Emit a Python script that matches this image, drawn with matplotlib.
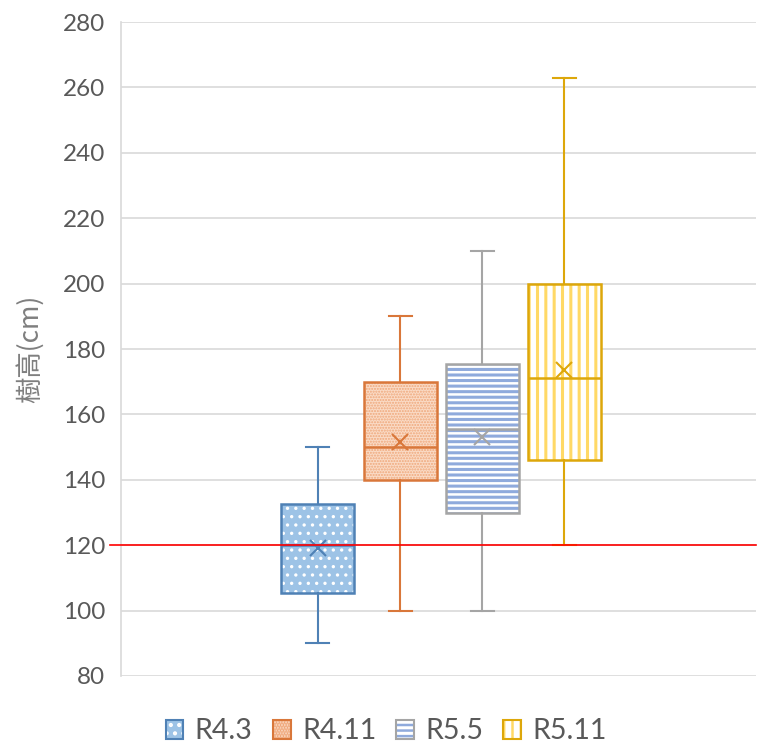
import matplotlib
matplotlib.use('Agg')
import matplotlib.pyplot as plt
import matplotlib.patches as mpatches
from matplotlib.legend_handler import HandlerTuple

plt.rcParams['font.family'] = ['Lato', 'Noto Sans CJK TC', 'DejaVu Sans']
plt.rcParams['hatch.linewidth'] = 1.8

# data
labels = ['R4.3', 'R4.11', 'R5.5', 'R5.11']
whis_lo = [90, 100, 100, 120]
q1 = [105.5, 140, 130, 146]
med = [120, 150, 155.5, 171]
q3 = [132.5, 170, 175.5, 200]
whis_hi = [150, 190, 210, 263]
means = [119, 151.5, 153, 173.5]

edge_cols = ['#4F81B5', '#D9773A', '#A5A5A5', '#DDA70A']
fill_cols = ['#9DC3E6', '#FADBC6', 'white', 'white']
hatch_cols = ['white', '#EFA77A', '#8FAADC', '#FFD966']
hatches = ['..', '......', '---', '||']
hatch_lw = [1.2, 1.0, 2.2, 2.2]

stats = []
for i in range(len(labels)):
    stats.append(dict(label=labels[i], whislo=whis_lo[i], q1=q1[i], med=med[i],
                      q3=q3[i], whishi=whis_hi[i], mean=means[i]))

fig = plt.figure(figsize=(7.59, 7.49), dpi=100)
ax = fig.add_axes([0.159, 0.0975, 0.837, 0.873])

pos = [1, 2, 3, 4]
bp = ax.bxp(stats, positions=pos, widths=0.89, capwidths=0.28,
            patch_artist=True, showmeans=True, showfliers=False)

for i, box in enumerate(bp['boxes']):
    box.set_facecolor(fill_cols[i])
    box.set_edgecolor(hatch_cols[i])
    box.set_hatch(hatches[i])
    box.set_linewidth(0)
    if hasattr(box, 'set_hatch_linewidth'):
        box.set_hatch_linewidth(hatch_lw[i])
    ax.add_patch(mpatches.PathPatch(box.get_path(), fill=False,
                                    edgecolor=edge_cols[i], lw=1.8, zorder=3))
    for k in (2 * i, 2 * i + 1):
        bp['whiskers'][k].set(color=edge_cols[i], lw=1.5)
        bp['caps'][k].set(color=edge_cols[i], lw=1.5)
    bp['medians'][i].set(color=edge_cols[i], lw=1.8, zorder=3)
    bp['means'][i].set(marker='x', markersize=11, markeredgecolor=edge_cols[i],
                       markeredgewidth=1.5, zorder=4)

ax.axhline(120, xmin=-0.017, xmax=1, color='red', lw=1.2, clip_on=False, zorder=5)

ax.set_xlim(-1.4, 6.33)
ax.set_ylim(80, 280)
ax.set_yticks(range(80, 281, 20))
ax.set_xticks([])
ax.yaxis.grid(True, color='#D9D9D9', lw=1.2)
ax.set_axisbelow(True)
for s in ['top', 'right', 'bottom']:
    ax.spines[s].set_visible(False)
ax.spines['left'].set_color('#D9D9D9')
ax.spines['left'].set_linewidth(1.2)
ax.tick_params(axis='y', length=0, pad=11, labelsize=17.5, labelcolor='#595959')
ax.set_ylabel('樹高(cm)', fontsize=19, color='#7F7F7F', labelpad=14,
              family=['Noto Sans CJK TC', 'DejaVu Sans'])

handles = []
for i in range(len(labels)):
    f = mpatches.Patch(facecolor=fill_cols[i], edgecolor=hatch_cols[i],
                       hatch=hatches[i], lw=0)
    if hasattr(f, 'set_hatch_linewidth'):
        f.set_hatch_linewidth(hatch_lw[i])
    o = mpatches.Patch(facecolor='none', edgecolor=edge_cols[i], lw=1.5)
    handles.append((f, o))
leg = fig.legend(handles, labels, loc='lower center', bbox_to_anchor=(0.509, -0.028),
                 ncol=4, frameon=False, fontsize=20.5, handlelength=0.63, handleheight=0.63,
                 handletextpad=0.4, columnspacing=0.7,
                 handler_map={tuple: HandlerTuple(ndivide=1)})
for t in leg.get_texts():
    t.set_color('#595959')

fig.savefig('out.png', dpi=100)
